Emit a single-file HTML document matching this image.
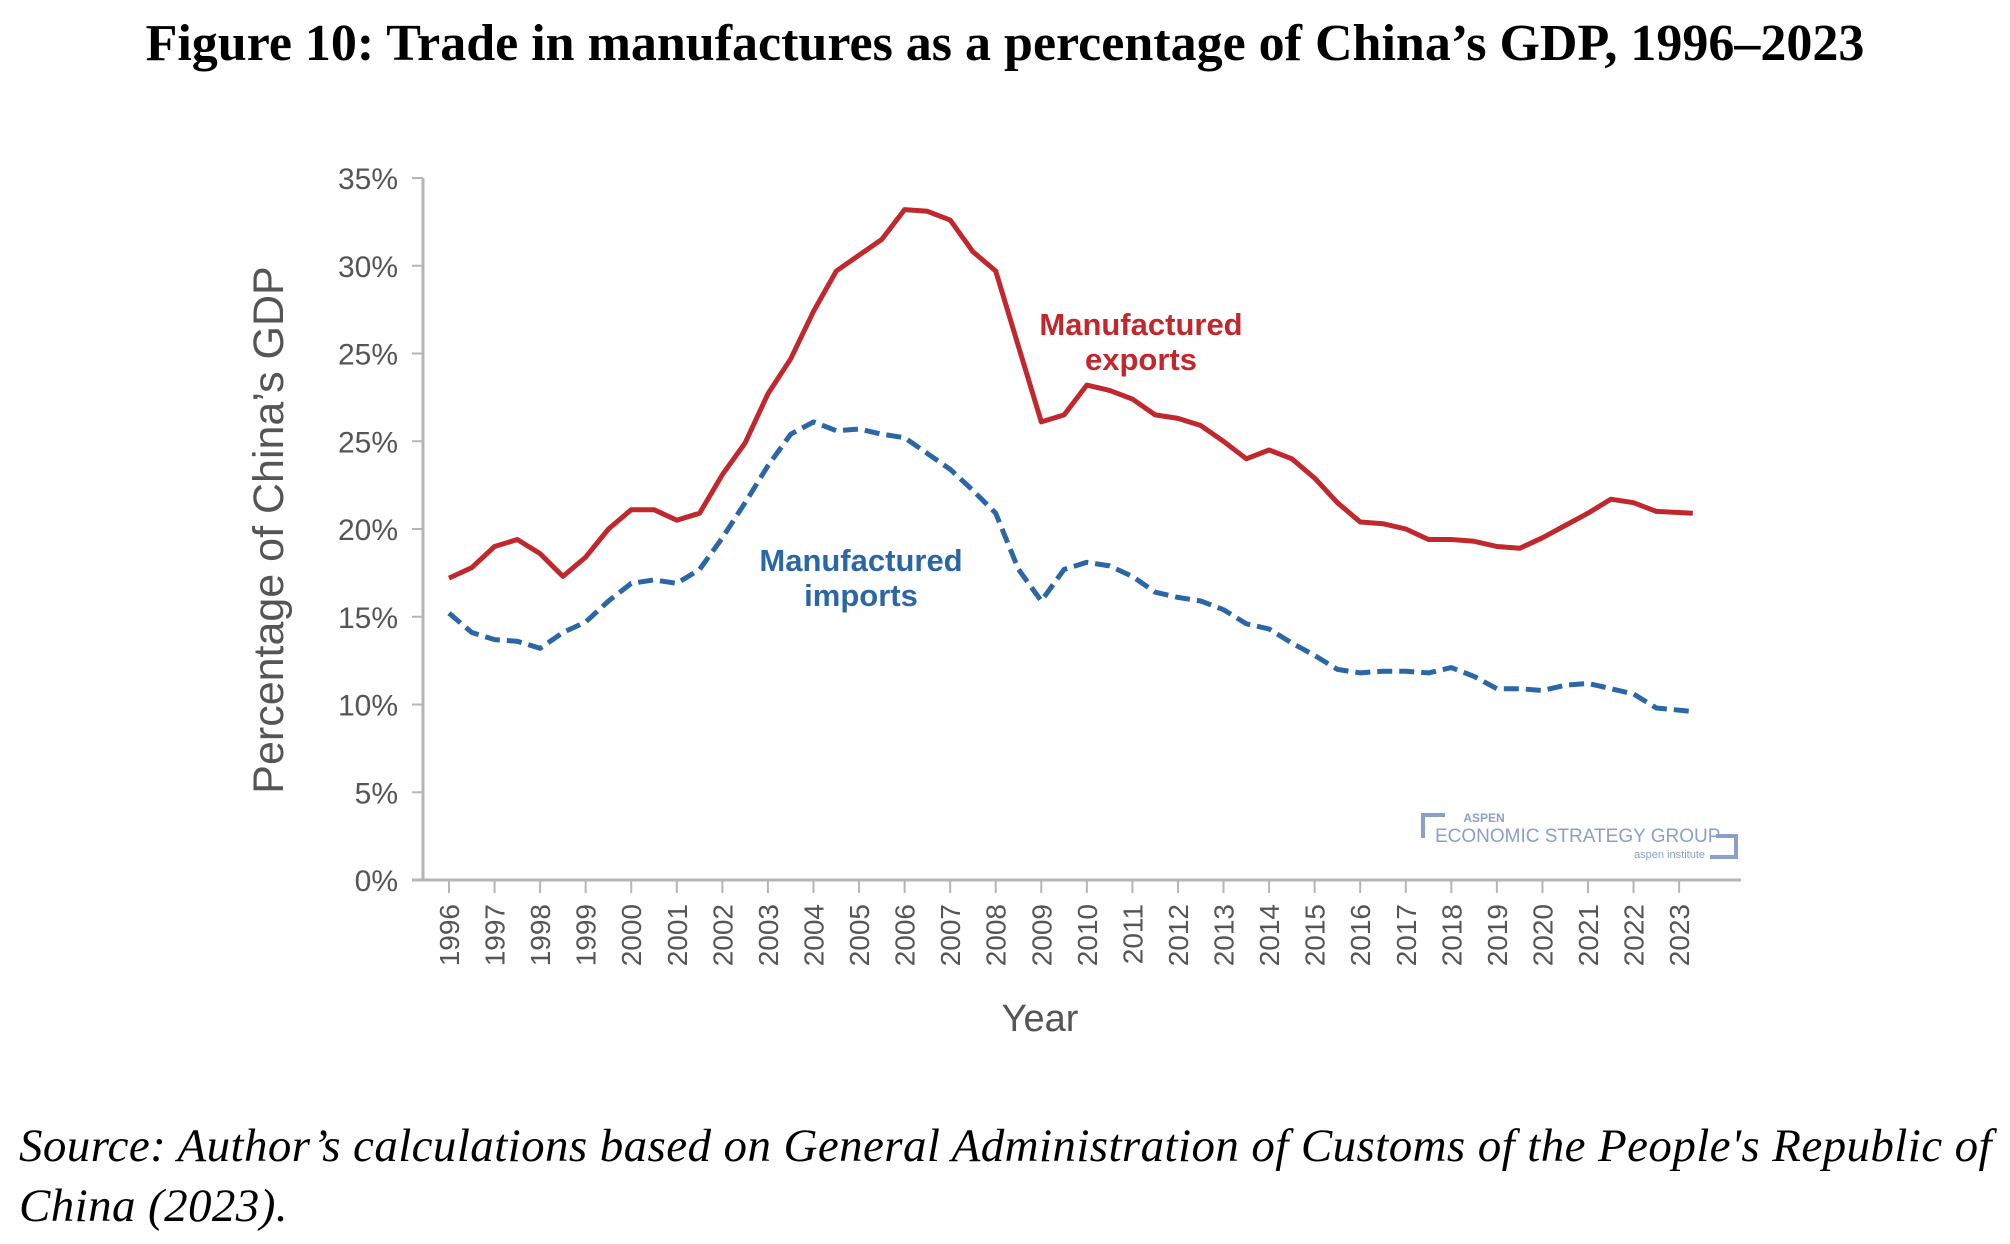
<!DOCTYPE html>
<html><head><meta charset="utf-8"><style>
body{margin:0;background:#fff;width:2010px;height:1244px;overflow:hidden;position:relative;font-family:"Liberation Serif",serif}
#title{position:absolute;left:0;width:2010px;top:14px;text-align:center;font-weight:bold;font-size:52px;color:#000;white-space:nowrap}
#src{position:absolute;left:19px;top:1116px;font-style:italic;font-size:47px;line-height:60px;color:#000;width:1990px;letter-spacing:0.4px}
svg{position:absolute;left:0;top:0}
</style></head><body>
<div id="title">Figure 10: Trade in manufactures as a percentage of China’s GDP, 1996–2023</div>
<svg id="chart" width="2010" height="1244"></svg>
<div id="src">Source: Author’s calculations based on General Administration of Customs of the People's Republic of China (2023).</div>
<script>
const years=[1996,1996.5,1997,1997.5,1998,1998.5,1999,1999.5,2000,2000.5,2001,2001.5,2002,2002.5,2003,2003.5,2004,2004.5,2005,2005.5,2006,2006.5,2007,2007.5,2008,2008.5,2009,2009.5,2010,2010.5,2011,2011.5,2012,2012.5,2013,2013.5,2014,2014.5,2015,2015.5,2016,2016.5,2017,2017.5,2018,2018.5,2019,2019.5,2020,2020.5,2021,2021.5,2022,2022.5,2023.3];
const exportsV=[17.2,17.8,19.0,19.4,18.6,17.3,18.4,20.0,21.1,21.1,20.5,20.9,23.1,24.9,27.7,29.7,32.4,34.7,35.6,36.5,38.2,38.1,37.6,35.8,34.7,30.4,26.1,26.5,28.2,27.9,27.4,26.5,26.3,25.9,25.0,24.0,24.5,24.0,22.9,21.5,20.4,20.3,20.0,19.4,19.4,19.3,19.0,18.9,19.5,20.2,20.9,21.7,21.5,21.0,20.9];
const importsV=[15.2,14.1,13.7,13.6,13.2,14.1,14.7,15.9,16.9,17.1,16.9,17.7,19.5,21.5,23.6,25.4,26.1,25.6,25.7,25.4,25.2,24.3,23.4,22.2,20.9,17.7,15.9,17.7,18.1,17.9,17.3,16.4,16.1,15.9,15.4,14.6,14.3,13.5,12.8,12.0,11.8,11.9,11.9,11.8,12.1,11.6,10.9,10.9,10.8,11.1,11.2,10.9,10.6,9.8,9.6];
const yTickVals=[0,5,10,15,20,25,30,35,40];
const yTickLabels=["0%","5%","10%","15%","20%","25%","25%","30%","35%"];
const xTickYears=[1996,1997,1998,1999,2000,2001,2002,2003,2004,2005,2006,2007,2008,2009,2010,2011,2012,2013,2014,2015,2016,2017,2018,2019,2020,2021,2022,2023];
const NS="http://www.w3.org/2000/svg";
const svg=document.getElementById('chart');
const X=y=>449+(y-1996)*45.56;
const Y=v=>880-v*17.55;
function mk(t,a,p){const e=document.createElementNS(NS,t);for(const k in a)e.setAttribute(k,a[k]);(p||svg).appendChild(e);return e;}
const ax=mk('g',{});


mk('line',{x1:423,y1:178,x2:423,y2:880,stroke:'#b5b5b5','stroke-width':3},ax);
mk('line',{x1:412,y1:880,x2:1741,y2:880,stroke:'#b5b5b5','stroke-width':3},ax);
yTickVals.forEach((v,i)=>{
 mk('line',{x1:412,y1:Y(v),x2:423,y2:Y(v),stroke:'#b5b5b5','stroke-width':2},ax);
 const t=mk('text',{x:398,y:Y(v)+11,'text-anchor':'end','font-family':'Liberation Sans, sans-serif','font-size':30,fill:'#555'},ax);
 t.textContent=yTickLabels[i];
 
 
});
xTickYears.forEach(y=>{
 mk('line',{x1:X(y),y1:880,x2:X(y),y2:893,stroke:'#b5b5b5','stroke-width':2},ax);
 const t=mk('text',{x:0,y:0,transform:`translate(${X(y)+10},904) rotate(-90)`,'text-anchor':'end','font-family':'Liberation Sans, sans-serif','font-size':28,fill:'#555'},ax);
 t.textContent=y;
 
 
});
const yt=mk('text',{transform:'translate(283,530) rotate(-90)','text-anchor':'middle','font-family':'Liberation Sans, sans-serif','font-size':43,fill:'#555'});
yt.textContent="Percentage of China’s GDP";


const xt=mk('text',{x:1040,y:1031,'text-anchor':'middle','font-family':'Liberation Sans, sans-serif','font-size':38,fill:'#555'});
xt.textContent="Year";


function line(vals,col,dash,name){
 const d=vals.map((v,i)=>(i?'L':'M')+X(years[i]).toFixed(1)+','+Y(v).toFixed(1)).join(' ');
 const p=mk('path',{d:d,fill:'none',stroke:col,'stroke-width':5,'stroke-linejoin':'round'});
 if(dash)p.setAttribute('stroke-dasharray',dash);
 
 
}
line(exportsV,'#c0282e',null,'exports-line');
line(importsV,'#2b66a6','15 7','imports-line');
function lab(x,y,txt,col,name){const t=mk('text',{x:x,y:y,'text-anchor':'middle','font-family':'Liberation Sans, sans-serif','font-size':31,'font-weight':'bold',fill:col});t.textContent=txt;}
lab(1141,335,'Manufactured','#c0282e','exports-label');
lab(1141,370,'exports','#c0282e','exports-label-2');
lab(861,571,'Manufactured','#2b66a6','imports-label');
lab(861,606,'imports','#2b66a6','imports-label-2');
const lg=mk('g',{});


mk('path',{d:'M1423,838 L1423,815 L1445,815',fill:'none',stroke:'#8aa0c8','stroke-width':4},lg);
mk('path',{d:'M1716,836 L1736,836 L1736,857 L1710,857',fill:'none',stroke:'#8aa0c8','stroke-width':4},lg);
let t1=mk('text',{x:1484,y:822,'text-anchor':'middle','font-family':'Liberation Sans, sans-serif','font-size':12,'font-weight':'bold',fill:'#8aa0c8'},lg);t1.textContent='ASPEN';
let t2=mk('text',{x:1435,y:842,'font-family':'Liberation Sans, sans-serif','font-size':19,fill:'#8aa0c8'},lg);t2.textContent='ECONOMIC STRATEGY GROUP';
let t3=mk('text',{x:1705,y:858,'text-anchor':'end','font-family':'Liberation Sans, sans-serif','font-size':11,fill:'#8aa0c8'},lg);t3.textContent='aspen institute';
</script>
</body></html>
